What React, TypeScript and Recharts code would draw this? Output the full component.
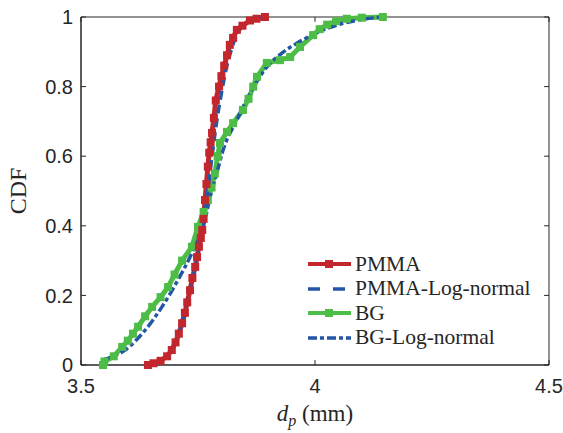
import { LineChart, Line, XAxis, YAxis, ReferenceArea, ReferenceLine } from 'recharts';

// empirical CDF, PMMA
const pmmaDp = [3.643, 3.655, 3.67, 3.684, 3.694, 3.702, 3.709, 3.716, 3.722, 3.727, 3.733, 3.738, 3.744, 3.748, 3.752, 3.756, 3.759, 3.762, 3.765, 3.768, 3.771, 3.774, 3.777, 3.78, 3.784, 3.788, 3.795, 3.8, 3.806, 3.812, 3.818, 3.825, 3.833, 3.845, 3.861, 3.875, 3.893];
const pmmaCdf = [0, 0.005, 0.012, 0.025, 0.043, 0.065, 0.09, 0.12, 0.15, 0.18, 0.215, 0.25, 0.282, 0.31, 0.34, 0.365, 0.388, 0.42, 0.474, 0.52, 0.57, 0.61, 0.64, 0.667, 0.71, 0.76, 0.8, 0.83, 0.86, 0.89, 0.92, 0.94, 0.963, 0.975, 0.99, 0.995, 1];

// empirical CDF, BG
const bgDp = [3.547, 3.55, 3.57, 3.588, 3.6, 3.611, 3.622, 3.637, 3.652, 3.67, 3.686, 3.7, 3.716, 3.737, 3.75, 3.762, 3.771, 3.779, 3.786, 3.792, 3.797, 3.812, 3.825, 3.846, 3.858, 3.868, 3.876, 3.897, 3.925, 3.947, 3.968, 3.996, 4.01, 4.026, 4.045, 4.068, 4.1, 4.145];
const bgCdf = [0, 0.01, 0.025, 0.052, 0.07, 0.09, 0.11, 0.14, 0.167, 0.195, 0.224, 0.26, 0.3, 0.34, 0.397, 0.44, 0.474, 0.51, 0.55, 0.6, 0.638, 0.67, 0.695, 0.733, 0.765, 0.8, 0.828, 0.868, 0.876, 0.885, 0.914, 0.948, 0.965, 0.978, 0.988, 0.995, 0.998, 1];

// log-normal fits
const pmmaFitDp = [3.652, 3.675, 3.694, 3.716, 3.733, 3.744, 3.752, 3.759, 3.766, 3.772, 3.78, 3.79, 3.8, 3.81, 3.82, 3.83, 3.84, 3.86, 3.89];
const pmmaFitCdf = [0.004, 0.018, 0.043, 0.12, 0.215, 0.282, 0.335, 0.388, 0.45, 0.51, 0.6, 0.7, 0.78, 0.85, 0.9, 0.94, 0.965, 0.99, 1];

const bgFitDp = [3.547, 3.594, 3.637, 3.673, 3.707, 3.737, 3.765, 3.776, 3.79, 3.803, 3.833, 3.861, 3.897, 3.93, 3.962, 4.004, 4.05, 4.1, 4.145];
const bgFitCdf = [0.015, 0.043, 0.1, 0.167, 0.244, 0.322, 0.417, 0.483, 0.55, 0.615, 0.704, 0.78, 0.856, 0.897, 0.925, 0.955, 0.978, 0.993, 1];

const xTicks = [3.5, 4, 4.5];
const yTicks = [0, 0.2, 0.4, 0.6, 0.8, 1];

const RED = '#c1272d';
const GREEN = '#4dbd48';
const BLUE = '#2456a6';
const INK = '#262626';

const toRows = (xs: number[], ys: number[]) => xs.map((x, i) => ({ dp: x, cdf: ys[i] }));

const pmmaData = toRows(pmmaDp, pmmaCdf);
const bgData = toRows(bgDp, bgCdf);
const pmmaFit = toRows(pmmaFitDp, pmmaFitCdf);
const bgFit = toRows(bgFitDp, bgFitCdf);

const square = (color: string) => (props: any) => {
  const { cx, cy, key } = props;
  if (cx == null || cy == null) return <g key={key} />;
  return <rect key={key} x={cx - 4} y={cy - 4} width={8} height={8} fill={color} />;
};

const tickStyle = { fill: INK, fontSize: 20, fontFamily: '"Liberation Sans", Arial, sans-serif' };
const serif = '"Liberation Serif", "DejaVu Serif", serif';

function XLabel(props: any) {
  const { viewBox } = props;
  const cx = viewBox.x + viewBox.width / 2;
  return (
    <text x={cx} y={viewBox.y + 56} textAnchor="middle" fill={INK} fontFamily={serif} fontSize={23}>
      <tspan fontStyle="italic">d</tspan>
      <tspan fontStyle="italic" fontSize={16} dy={5}>p</tspan>
      <tspan dy={-5}>{'  (mm)'}</tspan>
    </text>
  );
}

function YLabel(props: any) {
  const { viewBox } = props;
  const cy = viewBox.y + viewBox.height / 2;
  return (
    <text x={26} y={cy} transform={`rotate(-90 26 ${cy})`} textAnchor="middle" fill={INK}
      fontFamily={serif} fontSize={24}>
      CDF
    </text>
  );
}

const legendItems = [
  { name: 'PMMA', color: RED, dash: undefined, marker: true },
  { name: 'PMMA-Log-normal', color: BLUE, dash: '12 13', marker: false },
  { name: 'BG', color: GREEN, dash: undefined, marker: true },
  { name: 'BG-Log-normal', color: BLUE, dash: '9 3 4 3', marker: false },
];

function LegendBox() {
  return (
    <div style={{ position: 'absolute', left: 305, top: 252 }}>
      {legendItems.map((it) => (
        <div key={it.name} style={{ display: 'flex', alignItems: 'center', height: 24.5 }}>
          <svg width={48} height={20}>
            <line x1={3} y1={10} x2={46} y2={10} stroke={it.color} strokeWidth={it.marker ? 4 : 3.5}
              strokeDasharray={it.dash} />
            {it.marker && <rect x={20} y={6} width={8} height={8} fill={it.color} />}
          </svg>
          <span style={{ fontFamily: serif, fontSize: 21.5, color: INK, marginLeft: 2, lineHeight: 1 }}>
            {it.name}
          </span>
        </div>
      ))}
    </div>
  );
}

export default function App() {
  return (
    <div style={{ position: 'absolute', left: 0, top: 0, width: 563, height: 433, background: '#fff' }}>
      <LineChart width={563} height={433} margin={{ top: 17, right: 14, left: 41, bottom: 28 }}>
        <ReferenceArea x1={3.5} x2={4.5} y1={0} y2={1} fill="none" stroke={INK} strokeWidth={1} />
        {xTicks.map((t) => (
          <ReferenceLine key={'xt' + t} segment={[{ x: t, y: 1 }, { x: t, y: 0.986 }]} stroke={INK} />
        ))}
        {yTicks.map((t) => (
          <ReferenceLine key={'yt' + t} segment={[{ x: 4.5, y: t }, { x: 4.4895, y: t }]} stroke={INK} />
        ))}
        <XAxis dataKey="dp" type="number" domain={[3.5, 4.5]} ticks={xTicks} allowDataOverflow
          height={40} stroke={INK} tickSize={-5} tickMargin={19} tick={tickStyle}
          tickFormatter={(v: number) => String(v)} label={<XLabel />} />
        <YAxis dataKey="cdf" type="number" domain={[0, 1]} ticks={yTicks} width={40}
          stroke={INK} tickSize={-5} tickMargin={13} tick={tickStyle}
          tickFormatter={(v: number) => String(v)} label={<YLabel />} />
        <Line data={bgData} dataKey="cdf" stroke={GREEN} strokeWidth={5} dot={square(GREEN)}
          isAnimationActive={false} />
        <Line data={pmmaData} dataKey="cdf" stroke={RED} strokeWidth={5} dot={square(RED)}
          isAnimationActive={false} />
        <Line data={pmmaFit} dataKey="cdf" type="monotone" stroke={BLUE} strokeWidth={3.5}
          strokeDasharray="9 5" dot={false} isAnimationActive={false} />
        <Line data={bgFit} dataKey="cdf" type="monotone" stroke={BLUE} strokeWidth={3.5}
          strokeDasharray="9 3 4 3" dot={false} isAnimationActive={false} />
      </LineChart>
      <LegendBox />
    </div>
  );
}
